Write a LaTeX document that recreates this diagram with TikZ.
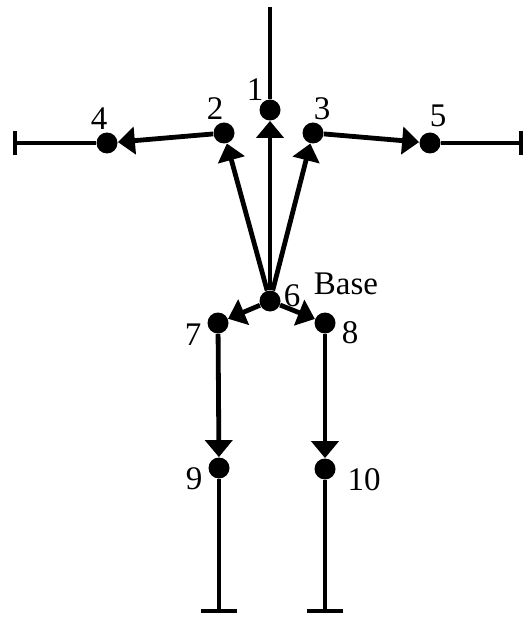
\documentclass[tikz,border=0pt]{standalone}
\usepackage{fontspec}
\setmainfont{Liberation Serif}
\usetikzlibrary{arrows.meta}
\begin{document}
\begin{tikzpicture}[x=0.5pt,y=-0.5pt,
  joint/.style={circle,fill=black,inner sep=0pt,minimum size=10.5pt},
  limb/.style={line width=2.4pt,-{Triangle[length=8.5pt,width=13.5pt]}},
  stub/.style={line width=2.4pt},
  lbl/.style={font=\fontsize{16.5}{16.5}\selectfont,inner sep=0pt}]
\useasboundingbox (0,0) rectangle (527,620);
\node[joint] (n1) at (270,110) {};
\node[joint] (n2) at (224,133) {};
\node[joint] (n3) at (313,133) {};
\node[joint] (n4) at (107,143) {};
\node[joint] (n5) at (430,143) {};
\node[joint] (n6) at (270,301) {};
\node[joint] (n7) at (218,323) {};
\node[joint] (n8) at (325,323) {};
\node[joint] (n9) at (219,468) {};
\node[joint] (n10) at (325,469) {};
\coordinate (top) at (270,7);
\coordinate (lend) at (13,143);
\coordinate (rend) at (523,143);
\coordinate (b9) at (219,613);
\coordinate (b10) at (325,613);
\draw[stub] (n1) -- (top);
\draw[stub,-{Bar[width=12pt,line width=2pt]}] (n4) -- (lend);
\draw[stub,-{Bar[width=12pt,line width=2pt]}] (n5) -- (rend);
\draw[stub,-{Bar[width=18pt,line width=2pt]}] (n9) -- (b9);
\draw[stub,-{Bar[width=18pt,line width=2pt]}] (n10) -- (b10);
\draw[limb] (n6) -- (n1);
\draw[limb] (n6) -- (n2);
\draw[limb] (n6) -- (n3);
\draw[limb] (n2) -- (n4);
\draw[limb] (n3) -- (n5);
\draw[limb] (n6) -- (n7);
\draw[limb] (n6) -- (n8);
\draw[limb] (n7) -- (n9);
\draw[limb] (n8) -- (n10);
\node[lbl] (l1) at (255,90) {1};
\node[lbl] (l2) at (215,109) {2};
\node[lbl] (l3) at (322,109) {3};
\node[lbl] (l4) at (99,119) {4};
\node[lbl] (l5) at (438,116) {5};
\node[lbl] (l6) at (292,296) {6};
\node[lbl] (lb) at (346,284) {Base};
\node[lbl] (l7) at (193,335) {7};
\node[lbl] (l8) at (350,333) {8};
\node[lbl] (l9) at (194,479) {9};
\node[lbl] (l10) at (364,480) {10};
\end{tikzpicture}
\end{document}
